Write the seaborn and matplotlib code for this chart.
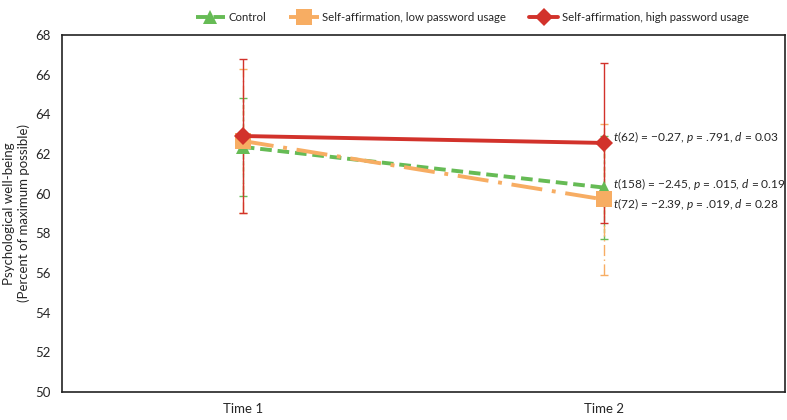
import numpy as np
import pandas as pd
import matplotlib
matplotlib.use("Agg")
import matplotlib.pyplot as plt
import seaborn as sns

times = ["Time 1", "Time 2"]
groups = ["Control", "Self-affirmation, low password usage", "Self-affirmation, high password usage"]
means = {
    "Control": [62.35, 60.3],
    "Self-affirmation, low password usage": [62.65, 59.7],
    "Self-affirmation, high password usage": [62.9, 62.55],
}
errs = {
    "Control": [2.45, 2.6],
    "Self-affirmation, low password usage": [3.65, 3.8],
    "Self-affirmation, high password usage": [3.9, 4.05],
}
stats_labels = {
    "Self-affirmation, high password usage": "$\\mathit{t}$(62) = \u22120.27, $\\mathit{p}$ = .791, $\\mathit{d}$ = 0.03",
    "Control": "$\\mathit{t}$(158) = \u22122.45, $\\mathit{p}$ = .015, $\\mathit{d}$ = 0.19",
    "Self-affirmation, low password usage": "$\\mathit{t}$(72) = \u22122.39, $\\mathit{p}$ = .019, $\\mathit{d}$ = 0.28",
}

colors = {"Control": "#66bb55",
          "Self-affirmation, low password usage": "#f7ad63",
          "Self-affirmation, high password usage": "#d2322b"}
styles = {"Control": (0, (3, 1.5)),
          "Self-affirmation, low password usage": (0, (8, 2.5, 1, 2.5)),
          "Self-affirmation, high password usage": "-"}
markers = {"Control": "^",
           "Self-affirmation, low password usage": "s",
           "Self-affirmation, high password usage": "D"}
msizes = {"Control": 10, "Self-affirmation, low password usage": 11,
          "Self-affirmation, high password usage": 9}

rows = []
for g in groups:
    for i, t in enumerate(times):
        rows.append({"group": g, "x": i, "time": t, "mean": means[g][i], "err": errs[g][i]})
df = pd.DataFrame(rows)

sns.set_style("white")
plt.rcParams["font.family"] = ["Lato", "DejaVu Sans"]
plt.rcParams["mathtext.fontset"] = "custom"
plt.rcParams["mathtext.it"] = "Lato:italic"
plt.rcParams["mathtext.rm"] = "Lato"

fig = plt.figure(figsize=(7.87, 4.2), dpi=100)
ax = fig.add_axes([0.079, 0.067, 0.918, 0.85])

# error bars first, lines on top
for g in groups:
    d = df[df["group"] == g]
    eb = ax.errorbar(d["x"], d["mean"], yerr=d["err"], fmt="none", ecolor=colors[g],
                     elinewidth=1, capsize=3, capthick=1, zorder=2)
    eb[2][0].set_linestyle(styles[g])

for g in groups:
    d = df[df["group"] == g]
    sns.lineplot(data=d, x="x", y="mean", ax=ax, color=colors[g], linewidth=2.8,
                 linestyle=styles[g], marker=markers[g], markersize=msizes[g],
                 markeredgewidth=0, label=g, zorder=3, errorbar=None)

for g in groups:
    yoff = {"Control": 0.2, "Self-affirmation, low password usage": -0.25,
            "Self-affirmation, high password usage": 0.3}[g]
    ax.text(1.025, means[g][1] + yoff, stats_labels[g], fontsize=8.6, va="center", ha="left")

ax.set_xlim(-0.5, 1.5)
ax.set_ylim(50, 68)
ax.set_yticks(np.arange(50, 69, 2))
ax.set_xticks([0, 1])
ax.set_xticklabels(times)
ax.set_xlabel("")
ax.set_ylabel("Psychological well-being\n(Percent of maximum possible)", fontsize=9.5)
ax.tick_params(axis="both", labelsize=9.5, length=0, pad=8)
for s in ax.spines.values():
    s.set_color("#222222")
    s.set_linewidth(1.2)

ax.legend(loc="upper center", bbox_to_anchor=(0.6, 0.995), bbox_transform=fig.transFigure,
          ncol=3, frameon=False, fontsize=8.2, handlelength=2.6, columnspacing=2.0,
          handletextpad=0.3)

fig.savefig("out.png", dpi=100)
